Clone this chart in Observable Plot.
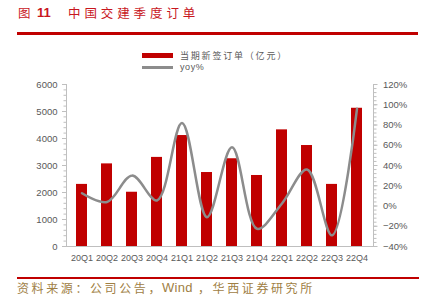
<!DOCTYPE html>
<html><head><meta charset="utf-8">
<script src="https://cdn.jsdelivr.net/npm/d3@7"></script>
<script src="https://cdn.jsdelivr.net/npm/@observablehq/plot@0.6"></script>
<style>
body{margin:0;background:#fff;}
#wrap{position:relative;width:423px;height:300px;overflow:hidden;font-family:"Liberation Sans",Arial,sans-serif;}
.abs{position:absolute;white-space:pre;}
.tt{top:5px;font-family:"Noto Sans CJK SC",sans-serif;font-size:12.5px;color:#c8161d;line-height:16px;}
#rule1{left:17px;top:32px;width:401px;height:2.5px;background:#c00000;}
#rule2{left:17px;top:277px;width:402px;height:2px;background:#c00000;}
.src{top:281px;font-family:"Noto Sans CJK SC",sans-serif;font-size:12px;line-height:14px;color:#a08044;letter-spacing:2.6px;}
.lg{font-family:"Noto Sans CJK SC",sans-serif;font-size:9px;line-height:10px;color:#595959;letter-spacing:1.8px;}
#sw1{left:142px;top:53px;width:31px;height:5px;background:#c00000;}
#sw2{left:142px;top:66px;width:31px;height:2.5px;background:#8c8c8c;}
#chart{position:absolute;left:0;top:0;}
</style></head>
<body><div id="wrap">
<div id="chart"></div>
<div class="abs tt" style="left:18px;">图</div>
<div class="abs tt" style="left:37px;font-family:'Liberation Sans',Arial,sans-serif;font-weight:bold;font-size:13px;">11</div>
<div class="abs tt" style="left:68px;letter-spacing:3.9px;">中国交建季度订单</div>
<div class="abs" id="rule1"></div>
<div class="abs" id="sw1"></div>
<div class="abs lg" style="left:180px;top:51px;">当期新签订单（亿元）</div>
<div class="abs" id="sw2"></div>
<div class="abs lg" style="left:180px;top:62px;font-family:'Liberation Sans',Arial,sans-serif;letter-spacing:0.6px;">yoy%</div>
<div class="abs" id="rule2"></div>
<div class="abs src" style="left:17px;">资料来源：公司公告，</div>
<div class="abs src" style="left:162px;font-family:'Liberation Sans',Arial,sans-serif;font-size:13px;letter-spacing:0.3px;">Wind</div>
<div class="abs src" style="left:198px;">，华西证券研究所</div>
</div>
<script>
const quarters = ["20Q1","20Q2","20Q3","20Q4","21Q1","21Q2","21Q3","21Q4","22Q1","22Q2","22Q3","22Q4"];
const orders = [2300,3060,2010,3300,4110,2740,3250,2630,4320,3740,2300,5120];
const yoy = [12.6,4,30,5.5,82,-11,58,-22.5,2.5,36,-29,96];
const leftTicks = [0,1000,2000,3000,4000,5000,6000];
const rightTicks = [-40,-20,0,20,40,60,80,100,120];

const toLeft = v => (v + 40) / 160 * 6000;
const fromLeft = d => Math.round(d / 6000 * 160 - 40);
const data = quarters.map((q, i) => ({q, orders: orders[i], yoy: yoy[i]}));
const minorLeft = d3.range(0, 6001, 200);
const minorRight = d3.range(-40, 121, 4).map(toLeft);
const axisColor = "#bfbfbf";

const chart = Plot.plot({
  width: 423, height: 300,
  marginLeft: 66, marginRight: 50, marginTop: 84, marginBottom: 54,
  style: {fontFamily: "'Liberation Sans', Arial, sans-serif", fontSize: "9.5px", color: "#595959", background: "transparent", overflow: "visible"},
  x: {type: "band", domain: quarters, paddingInner: 0.55, paddingOuter: 0.275, axis: null, label: null},
  y: {domain: [0, 6000], axis: null, label: null},
  marks: [
    Plot.barY(data, {x: "q", y: "orders", fill: "#c00000"}),
    Plot.line(data, {x: "q", y: d => toLeft(d.yoy), stroke: "#8c8c8c", strokeWidth: 2.5, curve: "catmull-rom"}),
    Plot.frame({anchor: "left", stroke: axisColor}),
    Plot.frame({anchor: "right", stroke: axisColor}),
    Plot.ruleY([0], {stroke: axisColor}),
    Plot.axisY(minorLeft, {anchor: "left", label: null, tickSize: 2.5, tickFormat: () => "", stroke: axisColor}),
    Plot.axisY(leftTicks, {anchor: "left", label: null, tickSize: 4, tickPadding: 5, stroke: axisColor, fill: "#595959", tickFormat: d => String(d)}),
    Plot.axisY(minorRight, {anchor: "right", label: null, tickSize: 2.5, tickFormat: () => "", stroke: axisColor}),
    Plot.axisY(rightTicks.map(toLeft), {anchor: "right", label: null, tickSize: 3.5, tickPadding: 6, stroke: axisColor, fill: "#595959",
      tickFormat: d => { const v = fromLeft(d); return (v < 0 ? "\u2212" + (-v) : String(v)) + "%"; }}),
    Plot.axisX(quarters, {anchor: "bottom", label: null, tickSize: 0, tickPadding: 8, fill: "#595959", fontSize: 9})
  ]
});
document.getElementById("chart").appendChild(chart);
</script>
</body></html>
